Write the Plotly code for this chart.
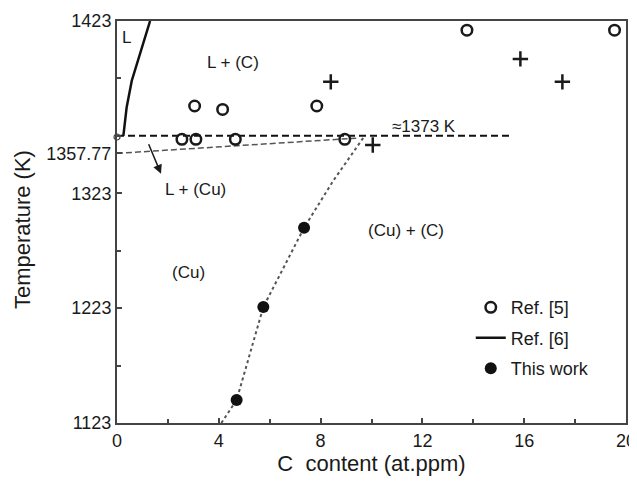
import plotly.graph_objects as go

# ---- data (C content in at.ppm, temperature in K) ----
ref5_circle_x = [3.05, 4.15, 7.85, 2.55, 3.1, 4.65, 8.95, 13.75, 19.55]
ref5_circle_T = [1399, 1396, 1399, 1370, 1370, 1370, 1370, 1465, 1465]

ref5_plus_x = [8.4, 15.85, 17.5, 10.05]
ref5_plus_T = [1420, 1440, 1420, 1365]

this_work_x = [4.7, 5.75, 7.35]
this_work_T = [1143, 1224, 1293]

fit_x = [4.1, 4.7, 5.75, 7.35, 8.5, 9.7]
fit_T = [1123, 1143, 1224, 1293, 1334, 1372]

ref6_x = [0.25, 0.38, 0.58, 0.9, 1.3]
ref6_T = [1373, 1398, 1421, 1445, 1473]

line1373_x = [0, 15.5]
line1373_T = [1373, 1373]

eut_x = [0, 9.4]
eut_T = [1357.77, 1371]

origin_x = [0]
origin_T = [1372]

x_ticks = [0, 4, 8, 12, 16, 20]
y_tickvals = [1123, 1223, 1323, 1357.77, 1473]
y_ticktext = ["1123", "1223", "1323", "1357.77", "1423"]

FONT = "Liberation Sans, Arial, sans-serif"
INK = "#1a1a1a"

fig = go.Figure()

fig.add_trace(go.Scatter(x=eut_x, y=eut_T, mode="lines", showlegend=False,
                         line=dict(color="#555555", width=1.5, dash="6px,3px")))
fig.add_trace(go.Scatter(x=line1373_x, y=line1373_T, mode="lines", showlegend=False,
                         line=dict(color="#111111", width=2, dash="7px,4px")))
fig.add_trace(go.Scatter(x=fit_x, y=fit_T, mode="lines", showlegend=False,
                         line=dict(color="#555555", width=2, dash="3px,3px")))
fig.add_trace(go.Scatter(x=ref5_plus_x, y=ref5_plus_T, mode="markers", showlegend=False,
                         marker=dict(symbol="cross-thin", size=11, color=INK,
                                     line=dict(color=INK, width=2.5))))
fig.add_trace(go.Scatter(x=ref5_circle_x, y=ref5_circle_T, mode="markers", name="Ref. [5]",
                         legendgroup="a",
                         marker=dict(symbol="circle-open", size=10.5, color=INK,
                                     line=dict(color=INK, width=2.5))))
fig.add_trace(go.Scatter(x=ref6_x, y=ref6_T, mode="lines", name="Ref. [6]",
                         legendgroup="b",
                         line=dict(color="#111111", width=2.5)))
fig.add_trace(go.Scatter(x=origin_x, y=origin_T, mode="markers", showlegend=False,
                         marker=dict(symbol="circle-open", size=6, color="#444444",
                                     line=dict(color="#444444", width=1.2)),
                         cliponaxis=False))
fig.add_trace(go.Scatter(x=this_work_x, y=this_work_T, mode="markers", name="This work",
                         legendgroup="c",
                         marker=dict(symbol="circle", size=12, color="#111111")))

labels = [
    (0.39, 1459, "L"),
    (4.56, 1437, "L + (C)"),
    (12.06, 1381, "\u22481373 K"),
    (3.1, 1326, "L + (Cu)"),
    (11.36, 1291, "(Cu) + (C)"),
    (2.79, 1254, "(Cu)"),
]
for lx, ly, txt in labels:
    fig.add_annotation(x=lx, y=ly, text=txt, showarrow=False,
                       font=dict(family=FONT, size=17, color=INK))

fig.add_annotation(x=1.73, y=1340, ax=1.22, ay=1367, axref="x", ayref="y",
                   text="", showarrow=True, arrowhead=2, arrowsize=1.2,
                   arrowwidth=1.5, arrowcolor=INK)

fig.add_annotation(x=0, y=0.48, xref="paper", yref="paper", xanchor="center",
                   yanchor="middle",
                   text="Temperature (K)", textangle=-90, showarrow=False,
                   font=dict(family=FONT, size=22, color=INK), xshift=-95)

axis_common = dict(showline=True, linecolor="#444444", linewidth=2, mirror=True,
                   showgrid=False, zeroline=False, ticks="inside", ticklen=5,
                   tickwidth=1.5, tickcolor="#444444", automargin=False,
                   ticklabeloverflow="allow",
                   tickfont=dict(family=FONT, size=18, color=INK))

fig.update_xaxes(range=[0, 20], tickmode="array", tickvals=x_ticks,
                 title=dict(text="C  content (at.ppm)", standoff=19,
                            font=dict(family=FONT, size=22, color=INK)),
                 minor=dict(tick0=0, dtick=2, ticks="inside", ticklen=4,
                            tickcolor="#444444", tickwidth=1.5),
                 **axis_common)
fig.update_yaxes(range=[1123, 1473], tickmode="array", tickvals=y_tickvals,
                 ticktext=y_ticktext,
                 minor=dict(tick0=1123, dtick=50, ticks="inside", ticklen=4,
                            tickcolor="#444444", tickwidth=1.5),
                 **axis_common)

# the page body keeps its default 8px margin, so the figure is sized to fit
fig.update_layout(
    width=629, height=468,
    margin=dict(l=109, r=11, t=13, b=53),
    plot_bgcolor="white", paper_bgcolor="white",
    font=dict(family=FONT, color=INK),
    legend=dict(x=0.695, y=0.333, xanchor="left", yanchor="top",
                bgcolor="rgba(0,0,0,0)", font=dict(family=FONT, size=18, color=INK),
                itemwidth=30, tracegroupgap=4),
)

fig.write_html("out.html")
